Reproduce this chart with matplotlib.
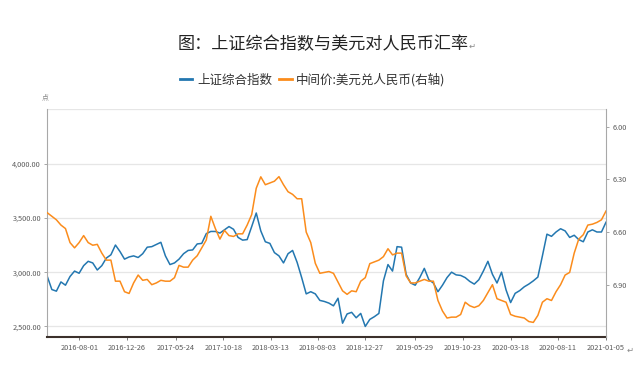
import matplotlib
matplotlib.use("Agg")
import matplotlib.pyplot as plt
import matplotlib.dates as mdates
import matplotlib.ticker as mticker
import pandas as pd

plt.rcParams['font.family'] = ['Noto Sans CJK SC', 'DejaVu Sans']

title = "图：上证综合指数与美元对人民币汇率"
label_sh = "上证综合指数"
label_fx = "中间价:美元兑人民币(右轴)"

start, end = "2016-04-25", "2021-01-05"
tick_dates = ["2016-08-01", "2016-12-26", "2017-05-24", "2017-10-18",
              "2018-03-13", "2018-08-03", "2018-12-27", "2019-05-29",
              "2019-10-23", "2020-03-18", "2020-08-11", "2021-01-05"]
left_ticks = [2500, 3000, 3500, 4000, 4500]
right_ticks = [6.00, 6.30, 6.60, 6.90]

# Shanghai composite, every two weeks
sh_index = [2960, 2840, 2825, 2910, 2880, 2960, 3010, 2990, 3060, 3100,
            3085, 3020, 3060, 3130, 3160, 3250, 3190, 3120, 3140, 3150,
            3135, 3170, 3230, 3235, 3255, 3275, 3150, 3070, 3085, 3120,
            3170, 3200, 3205, 3260, 3265, 3355, 3375, 3375, 3360, 3390,
            3420, 3395, 3320, 3295, 3300, 3420, 3545, 3380, 3280, 3265,
            3180, 3150, 3085, 3170, 3200, 3090, 2950, 2800, 2820, 2800,
            2740, 2730, 2715, 2690, 2760, 2530, 2615, 2630, 2580, 2620,
            2500, 2565, 2590, 2620, 2920, 3070, 3010, 3235, 3230, 2980,
            2900, 2880, 2950, 3035, 2930, 2900, 2820, 2880, 2950, 3000,
            2975, 2970, 2950, 2915, 2890, 2930, 3010, 3100, 2980, 2900,
            3000, 2836, 2720, 2805, 2830, 2865, 2890, 2920, 2955, 3150,
            3350, 3330, 3370, 3400, 3380, 3320, 3340, 3300, 3280, 3370,
            3390, 3370, 3370, 3460]

# USD/CNY central parity (right axis, inverted)
usd_cny = [6.49, 6.51, 6.53, 6.56, 6.58, 6.66, 6.69, 6.66, 6.62, 6.66,
           6.675, 6.67, 6.72, 6.76, 6.76, 6.88, 6.88, 6.94, 6.95, 6.89,
           6.845, 6.875, 6.87, 6.90, 6.89, 6.875, 6.88, 6.88, 6.86, 6.79,
           6.80, 6.80, 6.76, 6.735, 6.69, 6.645, 6.51, 6.58, 6.64, 6.59,
           6.62, 6.625, 6.61, 6.61, 6.56, 6.50, 6.35, 6.285, 6.33, 6.32,
           6.31, 6.284, 6.33, 6.37, 6.385, 6.41, 6.41, 6.60, 6.66, 6.778,
           6.835, 6.83, 6.825, 6.835, 6.885, 6.935, 6.955, 6.935, 6.94, 6.88,
           6.86, 6.78, 6.77, 6.76, 6.74, 6.695, 6.73, 6.72, 6.72, 6.85,
           6.89, 6.89, 6.88, 6.87, 6.88, 6.88, 6.99, 7.05, 7.09, 7.085,
           7.085, 7.07, 7.00, 7.02, 7.03, 7.02, 6.99, 6.945, 6.90, 6.98,
           6.99, 7.00, 7.07, 7.08, 7.085, 7.09, 7.11, 7.115, 7.075, 7.00,
           6.98, 6.99, 6.94, 6.90, 6.845, 6.83, 6.72, 6.64, 6.615, 6.56,
           6.555, 6.545, 6.53, 6.48]

dates = pd.date_range(start, end, periods=len(sh_index))

blue = "#2377b0"
orange = "#fb8c1c"
grey_txt = "#5a5a5a"

fig = plt.figure(figsize=(6.41, 3.83), dpi=100)
ax = fig.add_axes([0.0738, 0.1193, 0.8716, 0.5953])
ax2 = ax.twinx()

ax.plot(dates, sh_index, color=blue, lw=1.1)
ax2.plot(dates, usd_cny, color=orange, lw=1.1)

ax.set_xlim(pd.Timestamp(start), pd.Timestamp(end))
ax.set_ylim(2400, 4500)
ax2.set_ylim(7.2, 5.9)

ax.set_yticks(left_ticks)
ax.yaxis.set_major_formatter(mticker.FuncFormatter(
    lambda v, p: "" if v >= 4500 else f"{v:,.2f}"))
ax.yaxis.get_major_ticks()[-1].tick1line.set_visible(False)
ax2.set_yticks(right_ticks)
ax2.yaxis.set_major_formatter(mticker.FormatStrFormatter("%.2f"))
ax.set_xticks(pd.to_datetime(tick_dates))
ax.xaxis.set_major_formatter(mdates.DateFormatter("%Y-%m-%d"))

ax.yaxis.grid(True, color="#e6e6e6", lw=0.9)
ax.set_axisbelow(True)

for a in (ax, ax2):
    a.tick_params(labelsize=5.3, colors=grey_txt, length=2.5, width=0.6, pad=2)
    a.spines["top"].set_visible(False)
ax.tick_params(axis="y", colors="#999999", labelcolor=grey_txt)
ax2.tick_params(axis="y", colors="#999999", labelcolor=grey_txt)
ax.tick_params(axis="x", colors="#666666", labelcolor=grey_txt)
ax2.spines["left"].set_visible(False)
ax2.spines["bottom"].set_visible(False)
ax.spines["right"].set_visible(False)
ax.spines["left"].set_color("#a8a8a8")
ax2.spines["right"].set_color("#a8a8a8")
ax.spines["bottom"].set_color("#3b302b")
ax.spines["bottom"].set_linewidth(1.5)

# title with the little return mark after it
t = fig.text(0.504, 0.885, title, ha="center", va="center", fontsize=12.3,
             color="#222222")
ax.annotate("↵", xy=(1, 0.1), xycoords=t, ha="left", va="bottom",
            fontsize=6, color="#888888")

h1, = ax.plot([], [], color=blue, lw=2)
h2, = ax.plot([], [], color=orange, lw=2)
fig.legend([h1, h2], [label_sh, label_fx], loc="center",
           bbox_to_anchor=(0.488, 0.791), ncol=2, frameon=False,
           handlelength=1.0, handletextpad=0.35, columnspacing=0.6,
           fontsize=9, labelcolor="#333333")

fig.text(45 / 641, 1 - 97 / 383, "点", fontsize=5, color="#888888",
         ha="center", va="center")
fig.text(0.983, 0.086, "↵", fontsize=6, color="#888888", ha="center",
         va="center")

fig.savefig("out.png", dpi=100)
